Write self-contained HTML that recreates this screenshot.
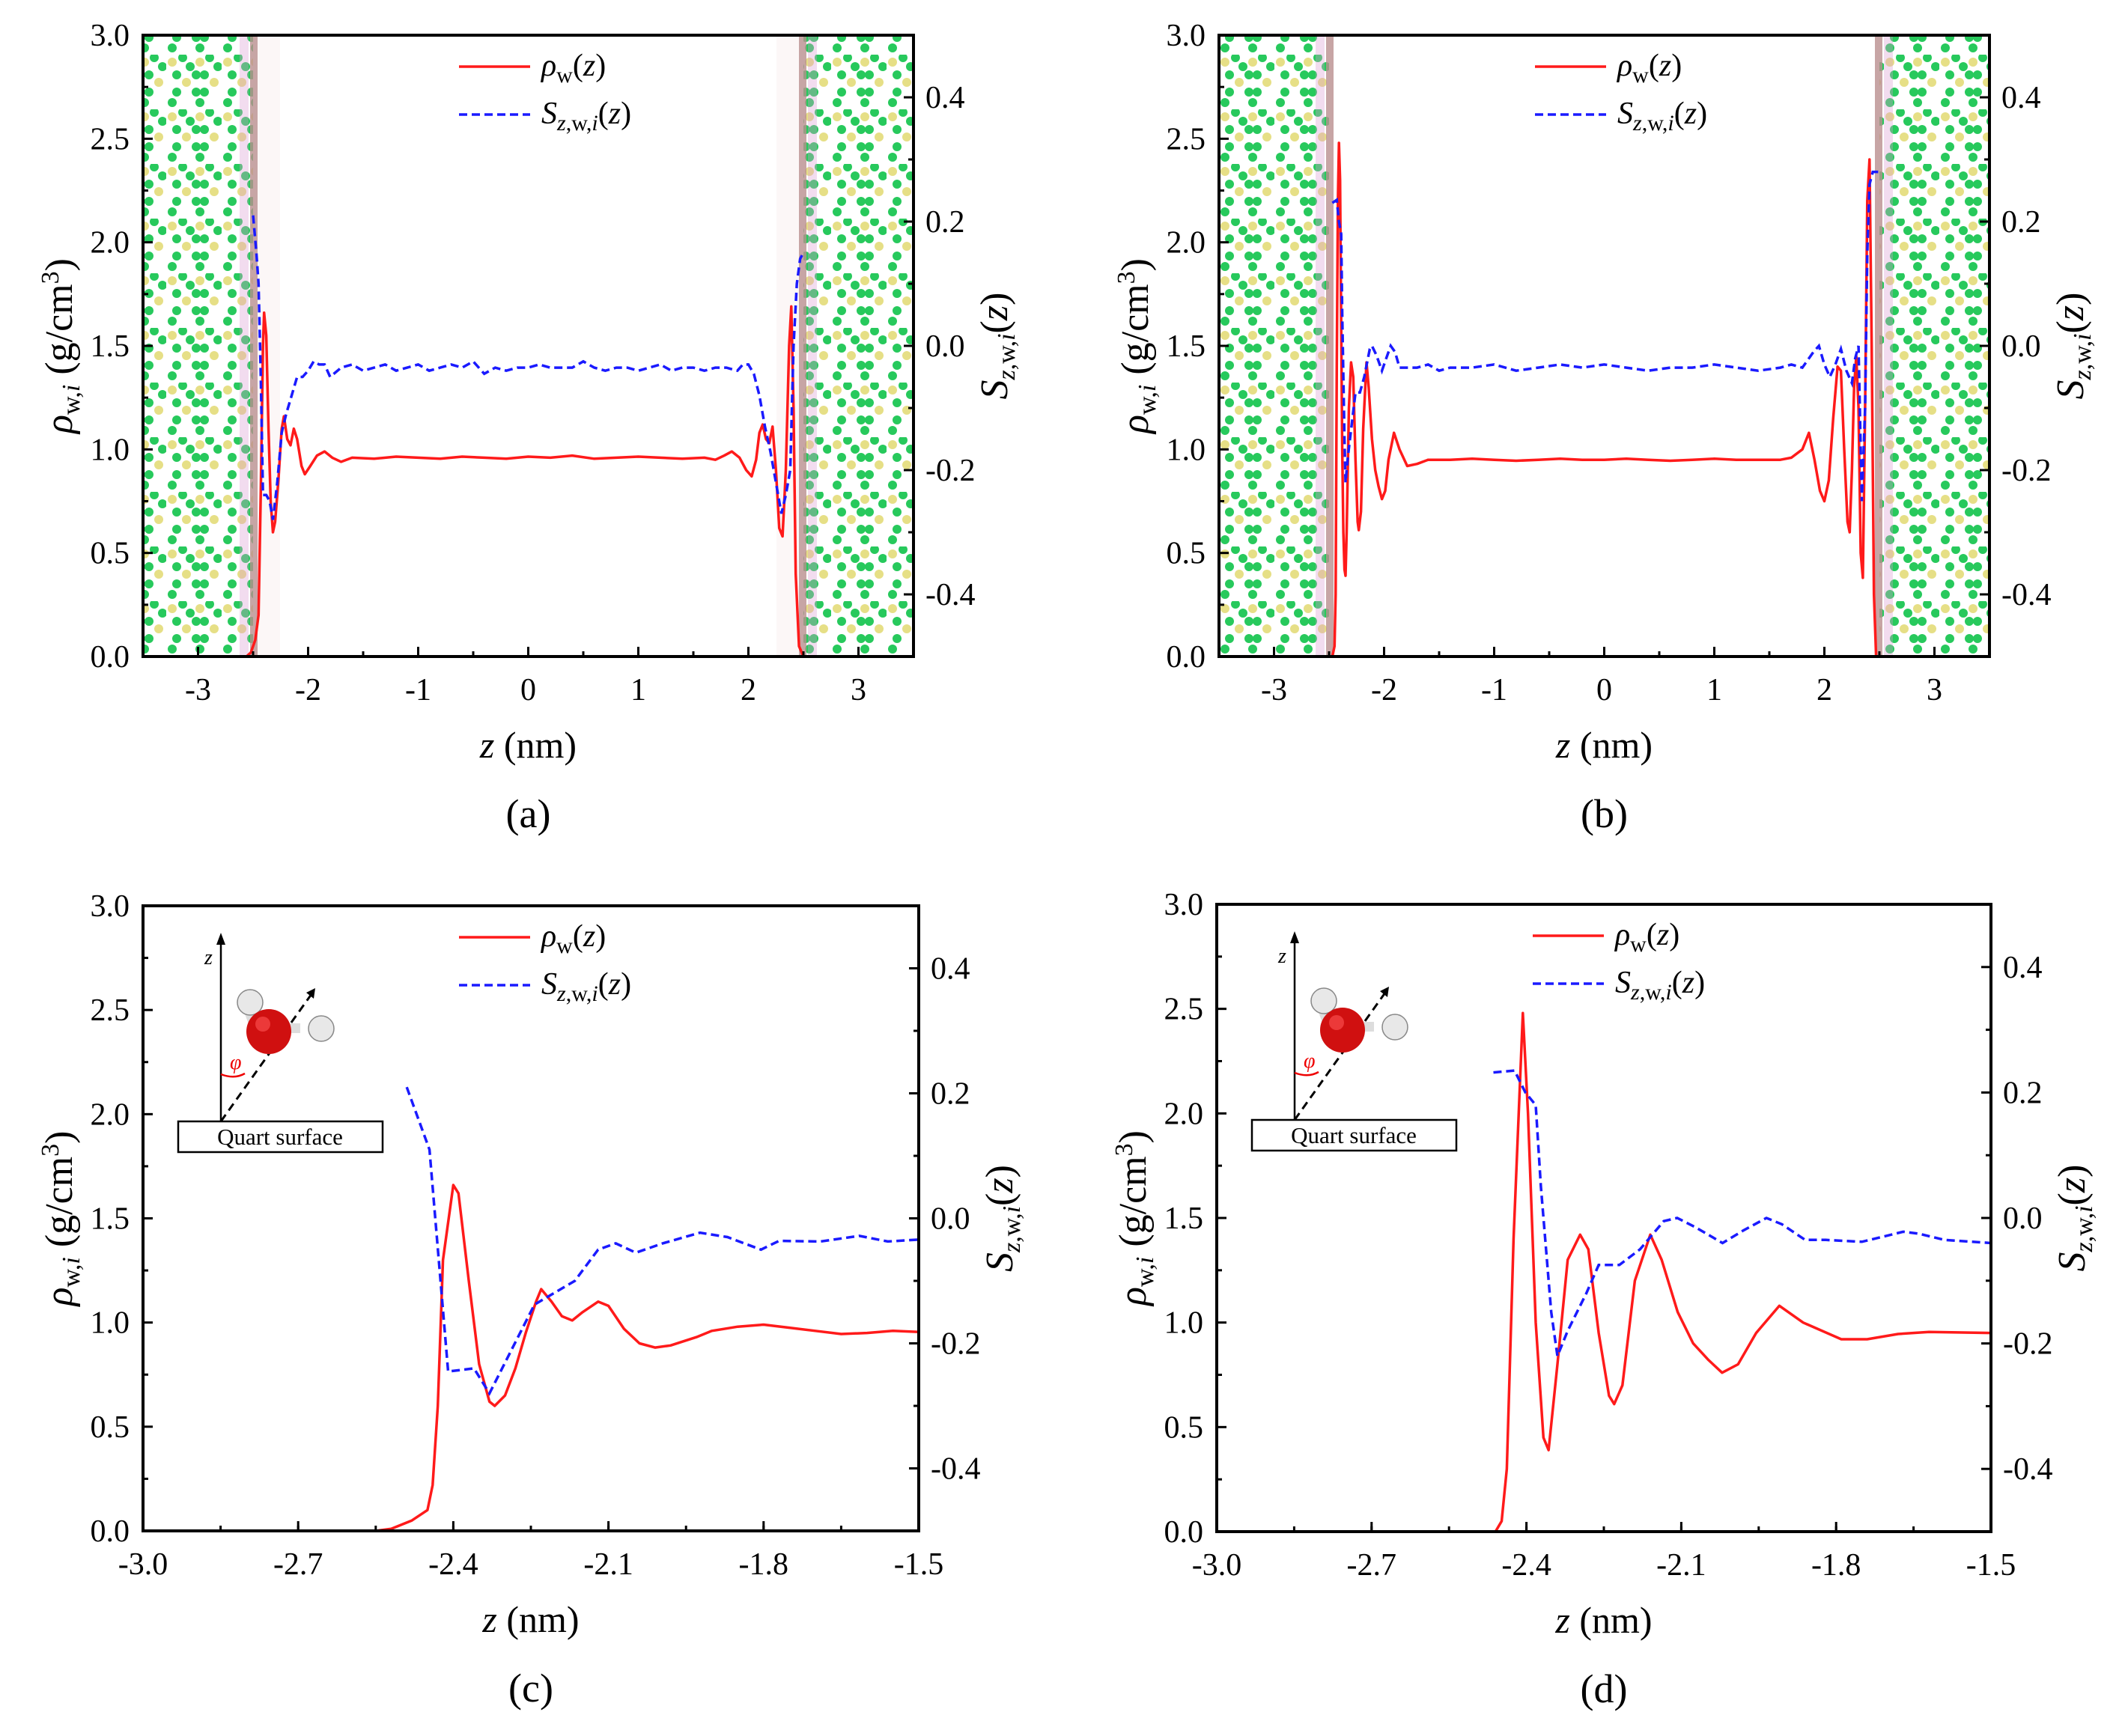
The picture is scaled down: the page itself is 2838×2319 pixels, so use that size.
<!DOCTYPE html>
<html><head><meta charset="utf-8">
<style>
html,body{margin:0;padding:0;background:#fff;}
svg{display:block;}
svg, svg text, svg tspan{font-family:"Liberation Serif","Times New Roman",Times,"DejaVu Serif",serif !important;}
</style></head>
<body>
<svg id="fig" width="2838" height="2319" viewBox="0 0 2838 2319" xmlns="http://www.w3.org/2000/svg" font-family="Liberation Serif, Times New Roman, serif">
<defs>
<pattern id="quartz" x="0" y="0" width="74" height="73" patternUnits="userSpaceOnUse">
<circle cx="8" cy="10" r="6" fill="#e6df86"/>
<circle cx="45" cy="10" r="6" fill="#e6df86"/>
<circle cx="27" cy="37" r="6" fill="#e6df86"/>
<circle cx="64" cy="37" r="6" fill="#e6df86"/>
<circle cx="22" cy="4" r="6" fill="#27c95c"/>
<circle cx="32" cy="16" r="6" fill="#27c95c"/>
<circle cx="58" cy="4" r="6" fill="#27c95c"/>
<circle cx="69" cy="16" r="6" fill="#27c95c"/>
<circle cx="14" cy="27" r="6" fill="#27c95c"/>
<circle cx="40" cy="27" r="6" fill="#27c95c"/>
<circle cx="14" cy="50" r="6" fill="#27c95c"/>
<circle cx="40" cy="50" r="6" fill="#27c95c"/>
<circle cx="51" cy="27" r="6" fill="#27c95c"/>
<circle cx="51" cy="50" r="6" fill="#27c95c"/>
<circle cx="8" cy="64" r="6" fill="#27c95c"/>
<circle cx="45" cy="64" r="6" fill="#27c95c"/>
</pattern>
</defs>
</svg>
<script>
// ===== Panel (a) data =====
const aRhoZ = [-2.56,-2.52,-2.48,-2.45,-2.43,-2.41,-2.40,-2.38,-2.36,-2.34,-2.32,-2.30,-2.27,-2.24,-2.22,-2.19,-2.16,-2.13,-2.10,-2.06,-2.03,-1.98,-1.92,-1.85,-1.78,-1.70,-1.6,-1.4,-1.2,-1.0,-0.8,-0.6,-0.4,-0.2,0,0.2,0.4,0.6,0.8,1.0,1.2,1.4,1.6,1.7,1.78,1.85,1.92,1.98,2.03,2.07,2.10,2.13,2.16,2.19,2.22,2.25,2.28,2.31,2.34,2.37,2.39,2.41,2.43,2.46,2.5,2.53];
const aRho = [0,0.02,0.08,0.2,0.8,1.5,1.66,1.55,1.1,0.75,0.6,0.65,0.85,1.1,1.16,1.05,1.02,1.1,1.05,0.92,0.88,0.92,0.97,0.99,0.96,0.94,0.96,0.955,0.965,0.96,0.955,0.965,0.96,0.955,0.965,0.96,0.97,0.955,0.96,0.965,0.96,0.955,0.96,0.95,0.97,0.99,0.96,0.9,0.87,0.95,1.08,1.12,1.05,1.03,1.11,0.9,0.62,0.58,0.9,1.5,1.69,1.2,0.4,0.05,0,0];
const aSZ = [-2.5,-2.47,-2.45,-2.43,-2.41,-2.38,-2.35,-2.32,-2.28,-2.24,-2.2,-2.15,-2.1,-2.05,-2.0,-1.95,-1.9,-1.85,-1.8,-1.7,-1.6,-1.5,-1.4,-1.3,-1.2,-1.1,-1.0,-0.9,-0.8,-0.7,-0.6,-0.5,-0.4,-0.3,-0.2,-0.1,0,0.1,0.2,0.3,0.4,0.5,0.6,0.7,0.8,0.9,1.0,1.1,1.2,1.3,1.4,1.5,1.6,1.7,1.8,1.9,1.95,2.0,2.05,2.1,2.15,2.2,2.25,2.3,2.34,2.38,2.41,2.44,2.47,2.5];
const aS = [0.21,0.15,0.1,-0.05,-0.24,-0.24,-0.25,-0.28,-0.22,-0.14,-0.11,-0.08,-0.05,-0.05,-0.04,-0.025,-0.03,-0.03,-0.05,-0.035,-0.03,-0.04,-0.035,-0.03,-0.04,-0.035,-0.03,-0.04,-0.035,-0.03,-0.035,-0.025,-0.045,-0.035,-0.04,-0.035,-0.035,-0.03,-0.035,-0.035,-0.035,-0.025,-0.035,-0.04,-0.035,-0.035,-0.04,-0.035,-0.03,-0.04,-0.035,-0.035,-0.04,-0.035,-0.035,-0.04,-0.03,-0.03,-0.045,-0.08,-0.13,-0.17,-0.22,-0.27,-0.24,-0.2,0.0,0.1,0.14,0.15];
// ===== Panel (b) data =====
const bRhoZ = [-2.47,-2.45,-2.44,-2.43,-2.42,-2.41,-2.40,-2.39,-2.38,-2.37,-2.36,-2.35,-2.34,-2.32,-2.30,-2.28,-2.26,-2.24,-2.23,-2.21,-2.19,-2.16,-2.14,-2.11,-2.08,-2.05,-2.02,-1.99,-1.96,-1.91,-1.86,-1.79,-1.7,-1.6,-1.4,-1.2,-1.0,-0.8,-0.6,-0.4,-0.2,0,0.2,0.4,0.6,0.8,1.0,1.2,1.4,1.6,1.7,1.8,1.86,1.91,1.96,2.0,2.04,2.08,2.12,2.15,2.18,2.21,2.23,2.25,2.27,2.29,2.31,2.33,2.35,2.37,2.39,2.41,2.43,2.45,2.47];
const bRho = [0,0.05,0.3,1.4,2.2,2.48,2.3,1.6,1.0,0.6,0.42,0.39,0.6,1.2,1.42,1.35,0.95,0.65,0.61,0.7,1.1,1.42,1.3,1.05,0.9,0.82,0.76,0.8,0.95,1.08,1.0,0.92,0.93,0.95,0.95,0.955,0.95,0.945,0.95,0.955,0.95,0.95,0.955,0.95,0.945,0.95,0.955,0.95,0.95,0.95,0.96,1.0,1.08,0.95,0.8,0.75,0.85,1.15,1.4,1.38,1.0,0.65,0.6,0.9,1.3,1.45,1.2,0.5,0.38,1.2,2.2,2.4,1.5,0.3,0];
const bSZ = [-2.47,-2.43,-2.41,-2.39,-2.38,-2.36,-2.35,-2.33,-2.29,-2.26,-2.22,-2.18,-2.13,-2.11,-2.07,-2.02,-1.98,-1.94,-1.9,-1.86,-1.8,-1.7,-1.6,-1.5,-1.4,-1.2,-1.0,-0.8,-0.6,-0.4,-0.2,0,0.2,0.4,0.6,0.8,1.0,1.2,1.4,1.6,1.7,1.8,1.9,1.95,2.0,2.05,2.1,2.15,2.2,2.25,2.28,2.31,2.34,2.37,2.39,2.41,2.44,2.47,2.5];
const bS = [0.23,0.235,0.2,0.18,0.05,-0.15,-0.22,-0.18,-0.12,-0.075,-0.075,-0.05,-0.005,0.0,-0.015,-0.04,-0.02,0.0,-0.01,-0.035,-0.035,-0.035,-0.03,-0.04,-0.035,-0.035,-0.03,-0.04,-0.035,-0.03,-0.035,-0.03,-0.035,-0.04,-0.035,-0.035,-0.03,-0.035,-0.04,-0.035,-0.03,-0.035,-0.01,0.0,-0.03,-0.05,-0.03,-0.005,-0.04,-0.06,-0.02,0.0,-0.25,-0.1,0.15,0.26,0.28,0.28,0.28];
// ===== Panel (c) data =====
const cRhoZ = [-2.9,-2.55,-2.52,-2.48,-2.45,-2.44,-2.43,-2.42,-2.40,-2.39,-2.37,-2.35,-2.33,-2.32,-2.30,-2.28,-2.26,-2.24,-2.23,-2.21,-2.19,-2.17,-2.15,-2.12,-2.10,-2.07,-2.04,-2.01,-1.98,-1.93,-1.9,-1.85,-1.8,-1.75,-1.7,-1.65,-1.6,-1.55,-1.5];
const cRho = [0,0,0.01,0.05,0.1,0.22,0.6,1.3,1.66,1.62,1.2,0.8,0.62,0.6,0.65,0.78,0.95,1.1,1.16,1.1,1.03,1.01,1.05,1.1,1.08,0.97,0.9,0.88,0.89,0.93,0.96,0.98,0.99,0.975,0.96,0.945,0.95,0.96,0.955];
const cSZ = [-2.49,-2.446,-2.41,-2.36,-2.33,-2.243,-2.165,-2.12,-2.086,-2.047,-1.995,-1.923,-1.87,-1.805,-1.77,-1.69,-1.615,-1.56,-1.5];
const cS = [0.21,0.11,-0.245,-0.24,-0.28,-0.138,-0.1,-0.05,-0.04,-0.055,-0.04,-0.023,-0.03,-0.05,-0.036,-0.037,-0.028,-0.037,-0.034];
// ===== Panel (d) data =====
const dRhoZ = [-2.9,-2.46,-2.448,-2.438,-2.425,-2.407,-2.397,-2.382,-2.367,-2.357,-2.34,-2.32,-2.296,-2.28,-2.26,-2.24,-2.23,-2.214,-2.19,-2.16,-2.138,-2.107,-2.077,-2.047,-2.021,-1.99,-1.955,-1.91,-1.864,-1.79,-1.74,-1.68,-1.62,-1.5];
const dRho = [0,0,0.05,0.3,1.4,2.48,2.0,1.0,0.45,0.39,0.8,1.3,1.42,1.35,0.95,0.65,0.61,0.7,1.2,1.42,1.3,1.05,0.9,0.82,0.76,0.8,0.95,1.08,1.0,0.92,0.92,0.945,0.955,0.95];
const dSZ = [-2.464,-2.423,-2.402,-2.382,-2.372,-2.352,-2.34,-2.32,-2.284,-2.26,-2.22,-2.18,-2.134,-2.108,-2.072,-2.02,-1.98,-1.935,-1.905,-1.86,-1.82,-1.75,-1.67,-1.64,-1.59,-1.5];
const dS = [0.232,0.235,0.2,0.18,0.05,-0.15,-0.22,-0.18,-0.12,-0.075,-0.075,-0.05,-0.005,0.0,-0.015,-0.04,-0.02,0.0,-0.01,-0.035,-0.035,-0.038,-0.022,-0.025,-0.035,-0.04];
// ===== Tick labels =====
const wideXTicks = [-3,-2,-1,0,1,2,3];
const wideXLabels = ["-3","-2","-1","0","1","2","3"];
const zoomXTicks = [-3.0,-2.7,-2.4,-2.1,-1.8,-1.5];
const zoomXLabels = ["-3.0","-2.7","-2.4","-2.1","-1.8","-1.5"];
const rhoTicks = [0,0.5,1.0,1.5,2.0,2.5,3.0];
const rhoLabels = ["0.0","0.5","1.0","1.5","2.0","2.5","3.0"];
const sTicks = [-0.4,-0.2,0.0,0.2,0.4];
const sLabels = ["-0.4","-0.2","0.0","0.2","0.4"];

const NS = "http://www.w3.org/2000/svg";
const svg = document.getElementById('fig');
function mk(tag, attrs, parent){
  const e = document.createElementNS(NS, tag);
  for (const k in attrs) e.setAttribute(k, attrs[k]);
  (parent||svg).appendChild(e);
  return e;
}

function panel(p){
  const g = mk('g', {});
  
  
  const X = v => p.L + (v - p.xmin) / (p.xmax - p.xmin) * (p.R - p.L);
  const Y = v => p.B - v / 3.0 * (p.B - p.T);
  const YS = v => p.B - (v + 0.5) / 1.0 * (p.B - p.T);
  const clipId = 'clip-' + p.id;
  const cp = mk('clipPath', {id: clipId}, g);
  mk('rect', {x:p.L, y:p.T, width:p.R-p.L, height:p.B-p.T}, cp);

  if (p.crystal) {
    const cg = mk('g', {'clip-path':'url(#'+clipId+')'}, g);
    
    
    const xl = X(-2.5), xr = X(2.5);
    mk('rect', {x:p.L, y:p.T, width:xl-p.L, height:p.B-p.T, fill:'url(#quartz)'}, cg);
    mk('rect', {x:xr, y:p.T, width:p.R-xr, height:p.B-p.T, fill:'url(#quartz)'}, cg);
    mk('rect', {x:xl-18, y:p.T, width:12, height:p.B-p.T, fill:'#d99bd0', opacity:0.35}, cg);
    mk('rect', {x:xr+6, y:p.T, width:12, height:p.B-p.T, fill:'#d99bd0', opacity:0.35}, cg);
    mk('rect', {x:xl-4, y:p.T, width:10, height:p.B-p.T, fill:'#b98f8f', opacity:0.8}, cg);
    mk('rect', {x:xr-6, y:p.T, width:10, height:p.B-p.T, fill:'#b98f8f', opacity:0.8}, cg);
    if (p.haze) {
      mk('rect', {x:xl+6, y:p.T, width:30, height:p.B-p.T, fill:'#f4e4e4', opacity:0.3}, cg);
      mk('rect', {x:xr-36, y:p.T, width:30, height:p.B-p.T, fill:'#f4e4e4', opacity:0.3}, cg);
    }
  }

  const cg2 = mk('g', {'clip-path':'url(#'+clipId+')'}, g);
  const rhoPts = p.rhoZ.map((z,i)=> X(z).toFixed(1)+','+Y(p.rho[i]).toFixed(1)).join(' ');
  const rl = mk('polyline', {points:rhoPts, fill:'none', stroke:'#ff1a1a', 'stroke-width':3.5, 'stroke-linejoin':'round'}, cg2);
  
  
  const sPts = p.sZ.map((z,i)=> X(z).toFixed(1)+','+YS(p.s[i]).toFixed(1)).join(' ');
  const sl = mk('polyline', {points:sPts, fill:'none', stroke:'#1a1aff', 'stroke-width':3.5, 'stroke-dasharray':'11,6'}, cg2);
  
  

  const fr = mk('rect', {x:p.L, y:p.T, width:p.R-p.L, height:p.B-p.T, fill:'none', stroke:'#000', 'stroke-width':4}, g);
  
  

  const step = p.xTicks[1]-p.xTicks[0];
  for (let i=0;i<p.xTicks.length;i++){
    const x = X(p.xTicks[i]);
    mk('line', {x1:x, y1:p.B, x2:x, y2:p.B-13, stroke:'#000','stroke-width':3}, g);
    const t = mk('text', {x:x, y:p.B+58, 'font-size':42, 'text-anchor':'middle'}, g);
    t.textContent = p.xLabels[i];
    
    
  }
  for (let v=p.xmin; v<=p.xmax+1e-6; v+=step/2){
    const x = X(v);
    if (x>p.L+2 && x<p.R-2) mk('line', {x1:x, y1:p.B, x2:x, y2:p.B-7, stroke:'#000','stroke-width':3}, g);
  }
  for (let i=0;i<rhoTicks.length;i++){
    const y = Y(rhoTicks[i]);
    mk('line', {x1:p.L, y1:y, x2:p.L+13, y2:y, stroke:'#000','stroke-width':3}, g);
    if (i<rhoTicks.length-1) mk('line', {x1:p.L, y1:Y(rhoTicks[i]+0.25), x2:p.L+7, y2:Y(rhoTicks[i]+0.25), stroke:'#000','stroke-width':3}, g);
    const t = mk('text', {x:p.L-18, y:y+14, 'font-size':42, 'text-anchor':'end'}, g);
    t.textContent = rhoLabels[i];
    
    
  }
  for (let i=0;i<sTicks.length;i++){
    const y = YS(sTicks[i]);
    mk('line', {x1:p.R, y1:y, x2:p.R-13, y2:y, stroke:'#000','stroke-width':3}, g);
    const t = mk('text', {x:p.R+16, y:y+14, 'font-size':42, 'text-anchor':'start'}, g);
    t.textContent = sLabels[i];
    
    
  }
  for (let v=-0.5; v<=0.5001; v+=0.2){
    const y = YS(v);
    if (y>p.T+2 && y<p.B-2) mk('line', {x1:p.R, y1:y, x2:p.R-7, y2:y, stroke:'#000','stroke-width':3}, g);
  }

  const xt = mk('text', {x:(p.L+p.R)/2, y:p.B+135, 'font-size':50, 'text-anchor':'middle'}, g);
  xt.innerHTML = '<tspan font-style="italic">z</tspan> (nm)';
  
  
  const cy = (p.T+p.B)/2;
  const yt = mk('text', {x:0, y:0, 'font-size':52, 'text-anchor':'middle', transform:'translate('+(p.L-95)+','+cy+') rotate(-90)'}, g);
  yt.innerHTML = '<tspan font-style="italic">ρ</tspan><tspan font-size="34" dy="10">w,<tspan font-style="italic">i</tspan></tspan><tspan dy="-10"> (g/cm</tspan><tspan font-size="34" dy="-18">3</tspan><tspan dy="18">)</tspan>';
  
  
  const rt = mk('text', {x:0, y:0, 'font-size':52, 'text-anchor':'middle', transform:'translate('+(p.R+125)+','+cy+') rotate(-90)'}, g);
  rt.innerHTML = '<tspan font-style="italic">S</tspan><tspan font-size="34" dy="10"><tspan font-style="italic">z</tspan>,w,<tspan font-style="italic">i</tspan></tspan><tspan dy="-10">(<tspan font-style="italic">z</tspan>)</tspan>';
  
  

  const lg = mk('g', {}, g);
  
  
  const ly1 = p.T+42, ly2 = p.T+106, lx = p.L+422;
  mk('line', {x1:lx, y1:ly1, x2:lx+95, y2:ly1, stroke:'#ff1a1a','stroke-width':3.5}, lg);
  mk('line', {x1:lx, y1:ly2, x2:lx+95, y2:ly2, stroke:'#1a1aff','stroke-width':3.5,'stroke-dasharray':'11,6'}, lg);
  const l1 = mk('text', {x:lx+110, y:ly1+12, 'font-size':42}, lg);
  l1.innerHTML = '<tspan font-style="italic">ρ</tspan><tspan font-size="30" dy="9">w</tspan><tspan dy="-9">(<tspan font-style="italic">z</tspan>)</tspan>';
  
  
  const l2 = mk('text', {x:lx+110, y:ly2+12, 'font-size':42}, lg);
  l2.innerHTML = '<tspan font-style="italic">S</tspan><tspan font-size="30" dy="9"><tspan font-style="italic">z</tspan>,w,<tspan font-style="italic">i</tspan></tspan><tspan dy="-9">(<tspan font-style="italic">z</tspan>)</tspan>';
  
  

  if (p.inset) {
    const ig = mk('g', {}, g);
    
    
    const ox = p.L, oy = p.T;
    const ax = ox+104;
    mk('line', {x1:ax, y1:oy+288, x2:ax, y2:oy+48, stroke:'#000','stroke-width':2.5}, ig);
    mk('polygon', {points:(ax-6)+','+(oy+52)+' '+ax+','+(oy+36)+' '+(ax+6)+','+(oy+52), fill:'#000'}, ig);
    const zt = mk('text', {x:ax-22, y:oy+78, 'font-size':28, 'font-style':'italic'}, ig);
    zt.textContent = 'z';
    mk('line', {x1:ax, y1:oy+288, x2:ox+225, y2:oy+118, stroke:'#000','stroke-width':3,'stroke-dasharray':'11,7'}, ig);
    mk('polygon', {points:(ox+218)+','+(oy+116)+' '+(ox+230)+','+(oy+110)+' '+(ox+228)+','+(oy+124), fill:'#000'}, ig);
    mk('path', {d:'M '+ax+' '+(oy+225)+' Q '+(ax+18)+' '+(oy+232)+' '+(ax+32)+' '+(oy+224), fill:'none', stroke:'#e00','stroke-width':2.5}, ig);
    const ph = mk('text', {x:ax+12, y:oy+218, 'font-size':28, 'font-style':'italic', fill:'#e00'}, ig);
    ph.textContent = 'φ';
    mk('rect', {x:ox+150, y:oy+157, width:60, height:13, fill:'#ddd'}, ig);
    mk('rect', {x:ox+137, y:oy+128, width:12, height:36, fill:'#ddd', transform:'rotate(-20 '+(ox+143)+' '+(oy+146)+')'}, ig);
    mk('circle', {cx:ox+143, cy:oy+129, r:17, fill:'#e8e8e8', stroke:'#888','stroke-width':1.5}, ig);
    mk('circle', {cx:ox+238, cy:oy+164, r:17, fill:'#e8e8e8', stroke:'#888','stroke-width':1.5}, ig);
    mk('circle', {cx:ox+168, cy:oy+168, r:30, fill:'#d01010'}, ig);
    mk('circle', {cx:ox+160, cy:oy+158, r:10, fill:'#ff5555', opacity:0.6}, ig);
    const bx = mk('rect', {x:ox+47, y:oy+288, width:273, height:41, fill:'#fff', stroke:'#000','stroke-width':2.5}, ig);
    
    
    const qt = mk('text', {x:ox+183, y:oy+319, 'font-size':31, 'text-anchor':'middle'}, ig);
    qt.textContent = 'Quart surface';
  }

  const pl = mk('text', {x:(p.L+p.R)/2, y:p.B+228, 'font-size':54, 'text-anchor':'middle'}, g);
  pl.textContent = '(' + p.id + ')';
  
  
}

panel({id:'a', L:191, R:1220, T:47, B:877, xmin:-3.5, xmax:3.5, xTicks:wideXTicks, xLabels:wideXLabels, crystal:true, haze:true, rhoZ:aRhoZ, rho:aRho, sZ:aSZ, s:aS});
panel({id:'b', L:1628, R:2657, T:47, B:877, xmin:-3.5, xmax:3.5, xTicks:wideXTicks, xLabels:wideXLabels, crystal:true, rhoZ:bRhoZ, rho:bRho, sZ:bSZ, s:bS});
panel({id:'c', L:191, R:1227, T:1210, B:2045, xmin:-3.0, xmax:-1.5, xTicks:zoomXTicks, xLabels:zoomXLabels, inset:true, rhoZ:cRhoZ, rho:cRho, sZ:cSZ, s:cS});
panel({id:'d', L:1625, R:2659, T:1208, B:2046, xmin:-3.0, xmax:-1.5, xTicks:zoomXTicks, xLabels:zoomXLabels, inset:true, rhoZ:dRhoZ, rho:dRho, sZ:dSZ, s:dS});
</script>
</body></html>
